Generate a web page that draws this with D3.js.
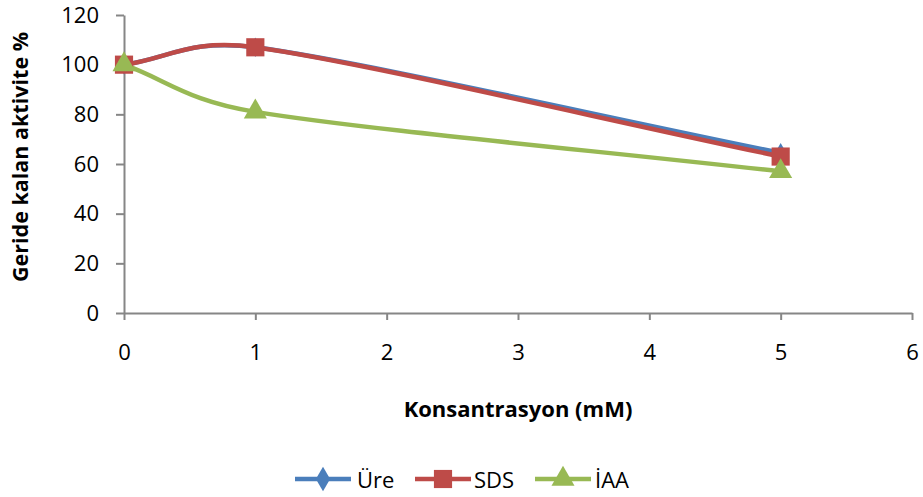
<!DOCTYPE html>
<html>
<head>
<meta charset="utf-8">
<script src="https://cdn.jsdelivr.net/npm/d3@7"></script>
<style>
  html, body { margin: 0; padding: 0; background: #fff; }
  svg { display: block; font-family: "Open Sans", Lato, "Liberation Sans", sans-serif; }
</style>
</head>
<body>
<svg id="chart" width="923" height="497"></svg>
<script>
// Concentrations (mM) and remaining activity (%) per inhibitor
const concentrations = [0, 1, 5];
const ureValues = [100, 107, 64.5];
const sdsValues = [100, 107, 63];
const iaaValues = [100, 81, 57];
const seriesNames = ["Üre", "SDS", "İAA"];
const xTicks = [0, 1, 2, 3, 4, 5, 6];
const yTicks = [0, 20, 40, 60, 80, 100, 120];

const colors = { "Üre": "#4A7EBB", "SDS": "#BE4B48", "İAA": "#98B954" };
const shapes = { "Üre": d3.symbolDiamond, "SDS": d3.symbolSquare, "İAA": d3.symbolTriangle };
const sizes = { "Üre": 110, "SDS": 330, "İAA": 230 };

const series = [
  { name: seriesNames[0], values: ureValues },
  { name: seriesNames[1], values: sdsValues },
  { name: seriesNames[2], values: iaaValues }
];

// Smoothed Bezier curve: handles follow (next - prev) / 6 (1/3 at the ends),
// and each handle is capped at half the length of its own segment.
function smoothCurve(context) {
  let pts = [];
  const dist = (a, b) => Math.hypot(b[0] - a[0], b[1] - a[1]);
  function handle(from, to, f, cap) {
    let hx = (to[0] - from[0]) * f, hy = (to[1] - from[1]) * f;
    const len = Math.hypot(hx, hy);
    if (len > cap) { hx *= cap / len; hy *= cap / len; }
    return [hx, hy];
  }
  return {
    areaStart() {}, areaEnd() {},
    lineStart() { pts = []; },
    point(px, py) { pts.push([+px, +py]); },
    lineEnd() {
      const n = pts.length;
      if (!n) return;
      context.moveTo(pts[0][0], pts[0][1]);
      for (let i = 0; i < n - 1; i++) {
        const first = i === 0, last = i === n - 2;
        const p0 = pts[first ? i : i - 1], p1 = pts[i], p2 = pts[i + 1], p3 = pts[last ? i + 1 : i + 2];
        const half = dist(p1, p2) / 2;
        const h1 = handle(p0, p2, first ? 1 / 3 : 1 / 6, half);
        const h2 = handle(p1, p3, last ? 1 / 3 : 1 / 6, half);
        context.bezierCurveTo(
          p1[0] + h1[0], p1[1] + h1[1],
          p2[0] - h2[0], p2[1] - h2[1],
          p2[0], p2[1]);
      }
    }
  };
}

const svg = d3.select("#chart");
const margin = { left: 124, right: 11, top: 15, bottom: 184 };
const W = 923, H = 497;

const x = d3.scaleLinear().domain([0, 6]).range([margin.left, W - margin.right]);
const y = d3.scaleLinear().domain([0, 120]).range([H - margin.bottom, margin.top]);

const axisColor = "#868686";
const tickFont = 22;
const fontFam = "'Open Sans', Lato, sans-serif";

// Y axis
const yAxis = svg.append("g")
  .attr("transform", `translate(${margin.left},0)`)
  .call(d3.axisLeft(y).tickValues(yTicks).tickSize(8).tickPadding(17).tickSizeOuter(0));
yAxis.select(".domain").attr("stroke", axisColor).attr("stroke-width", 2);
yAxis.selectAll(".tick line").attr("stroke", axisColor).attr("stroke-width", 2);
yAxis.selectAll(".tick text").attr("font-size", tickFont).attr("fill", "#000")
  .attr("font-family", fontFam);

// X axis
const xAxis = svg.append("g")
  .attr("transform", `translate(0,${y(0)})`)
  .call(d3.axisBottom(x).tickValues(xTicks).tickFormat(d3.format("d")).tickSize(7).tickPadding(24).tickSizeOuter(0));
xAxis.select(".domain").attr("stroke", axisColor).attr("stroke-width", 2);
xAxis.selectAll(".tick line").attr("stroke", axisColor).attr("stroke-width", 2);
xAxis.selectAll(".tick text").attr("font-size", tickFont).attr("fill", "#000")
  .attr("font-family", fontFam);

// Axis titles
svg.append("text")
  .attr("x", 518)
  .attr("y", 417)
  .attr("text-anchor", "middle")
  .attr("font-size", 22)
  .attr("font-weight", "bold")
  .text("Konsantrasyon (mM)");

svg.append("text")
  .attr("transform", `translate(28,157) rotate(-90)`)
  .attr("text-anchor", "middle")
  .attr("font-size", 21.5)
  .attr("font-weight", "bold")
  .text("Geride kalan aktivite %");

// Smoothed lines
const line = d3.line()
  .x((d, i) => x(concentrations[i]))
  .y(d => y(d))
  .curve(smoothCurve);

series.forEach(s => {
  svg.append("path")
    .datum(s.values)
    .attr("d", line)
    .attr("fill", "none")
    .attr("stroke", colors[s.name])
    .attr("stroke-width", 4.5)
    .attr("stroke-linecap", "round");
});

// Markers
series.forEach(s => {
  svg.append("g").selectAll("path")
    .data(s.values)
    .join("path")
    .attr("transform", (d, i) => `translate(${x(concentrations[i])},${y(d)})`)
    .attr("d", d3.symbol().type(shapes[s.name]).size(sizes[s.name]))
    .attr("fill", colors[s.name]);
});

// Legend
const legendY = 479;
const legendItems = [
  { name: seriesNames[0], x0: 295, tx: 357 },
  { name: seriesNames[1], x0: 415, tx: 474 },
  { name: seriesNames[2], x0: 535, tx: 595 }
];
legendItems.forEach(item => {
  const g = svg.append("g");
  g.append("line")
    .attr("x1", item.x0).attr("x2", item.x0 + 56)
    .attr("y1", legendY).attr("y2", legendY)
    .attr("stroke", colors[item.name]).attr("stroke-width", 4.5);
  g.append("path")
    .attr("transform", `translate(${item.x0 + 28},${legendY})`)
    .attr("d", d3.symbol().type(shapes[item.name]).size(sizes[item.name] * (item.name === "Üre" ? 1.6 : 1)))
    .attr("fill", colors[item.name]);
  g.append("text")
    .attr("x", item.tx)
    .attr("y", legendY + 9)
    .attr("font-size", tickFont)
    .attr("font-family", fontFam)
    .text(item.name);
});
</script>
</body>
</html>
